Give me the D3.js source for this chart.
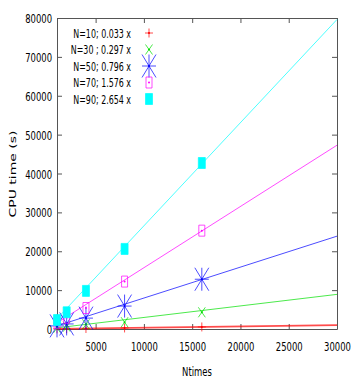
<!DOCTYPE html>
<html>
<head>
<meta charset="utf-8">
<script src="https://cdn.jsdelivr.net/npm/d3@7"></script>
<style>
  body { margin: 0; background: #fff; }
  text { font-family: "DejaVu Sans", sans-serif; fill: #000; }
</style>
</head>
<body>
<script>
// chart values
var ntimes = [1000, 2000, 4000, 8000, 16000];
var seriesNames = ["N=10; 0.033 x", "N=30 ; 0.297 x", "N=50; 0.796 x", "N=70; 1.576 x", "N=90; 2.654 x"];
var slopes = [0.033, 0.297, 0.796, 1.576, 2.654];
var cpu10 = [35, 70, 135, 270, 530];
var cpu30 = [300, 600, 1200, 1750, 4300];
var cpu50 = [800, 1300, 2800, 5900, 12800];
var cpu70 = [1600, 2900, 5400, 12200, 25300];
var cpu90 = [2300, 4300, 9800, 20600, 42700];
var xTicks = [5000, 10000, 15000, 20000, 25000, 30000];
var yTicks = [0, 10000, 20000, 30000, 40000, 50000, 60000, 70000, 80000];

var colors = ["#ff0000", "#00e000", "#0000ff", "#ff00ff", "#00ffff"];
var shapes = ["plus", "cross", "star", "box", "fbox"];
var lineWidths = [1.6, 1, 1, 1, 1];
var allSeries = [cpu10, cpu30, cpu50, cpu70, cpu90];

var W = 354, H = 382;
var squash = 0.65; // the original picture is squeezed sideways

var svg = d3.select("body").append("svg")
  .attr("width", W)
  .attr("height", H);

var x = d3.scaleLinear().domain([1000, 30000]).range([57, 337]);
var y = d3.scaleLinear().domain([0, 80000]).range([329, 18]);

// frame + ticks (inward, gnuplot style)
var frameColor = "#555";
var axBottom = svg.append("g").attr("transform", "translate(0,329)")
  .call(d3.axisBottom(x).tickValues(xTicks).tickSizeInner(-5).tickSizeOuter(0));
var axLeft = svg.append("g").attr("transform", "translate(57,0)")
  .call(d3.axisLeft(y).tickValues(yTicks).tickSizeInner(-5).tickSizeOuter(0));
var axTop = svg.append("g").attr("transform", "translate(0,18)")
  .call(d3.axisTop(x).tickValues(xTicks).tickSizeInner(-5).tickSizeOuter(0).tickFormat(""));
var axRight = svg.append("g").attr("transform", "translate(337,0)")
  .call(d3.axisRight(y).tickValues(yTicks).tickSizeInner(-5).tickSizeOuter(0).tickFormat(""));

[axBottom, axLeft, axTop, axRight].forEach(function(g){
  g.selectAll("path, line").attr("stroke", frameColor);
  g.selectAll("text").remove();
});

// tick labels
axBottom.selectAll(".tick").append("text")
  .attr("text-anchor", "middle")
  .attr("transform", "translate(0,22) scale(" + squash + ",1)")
  .style("font-size", "13px")
  .text(function(d){ return d; });
axLeft.selectAll(".tick").append("text")
  .attr("text-anchor", "end")
  .attr("transform", "translate(-5,4.5) scale(" + squash + ",1)")
  .style("font-size", "13px")
  .text(function(d){ return d; });

// axis titles
svg.append("text")
  .attr("text-anchor", "middle")
  .attr("transform", "translate(197,376) scale(" + squash + ",1)")
  .style("font-size", "13px")
  .text("Ntimes");
svg.append("text")
  .attr("text-anchor", "middle")
  .attr("transform", "translate(16,174) scale(" + squash + ",1) rotate(-90)")
  .style("font-size", "14px")
  .text("CPU time (s)");

// marker path, hx / hy are the half width and height
function marker(shape, cx, cy, hx, hy){
  var p = d3.path();
  if (shape == "plus" || shape == "star"){
    p.moveTo(cx - hx, cy); p.lineTo(cx + hx, cy);
    p.moveTo(cx, cy - hy); p.lineTo(cx, cy + hy);
  }
  if (shape == "cross" || shape == "star"){
    p.moveTo(cx - hx, cy - hy); p.lineTo(cx + hx, cy + hy);
    p.moveTo(cx - hx, cy + hy); p.lineTo(cx + hx, cy - hy);
  }
  if (shape == "box" || shape == "fbox"){
    p.rect(cx - hx, cy - hy, 2 * hx, 2 * hy);
  }
  return p.toString();
}
var halfX = [4, 3.5, 7, 3, 3.5];
var halfY = [4.5, 5, 11.5, 5.5, 5.5];

var line = d3.line()
  .x(function(d){ return x(d[0]); })
  .y(function(d){ return y(d[1]); });

var plot = svg.append("g");

allSeries.forEach(function(vals, i){
  var dom = x.domain();
  plot.append("path")
    .attr("d", line(dom.map(function(t){ return [t, slopes[i] * t]; })))
    .attr("fill", "none")
    .attr("stroke", colors[i])
    .attr("stroke-width", lineWidths[i])
    .attr("stroke-opacity", 0.7);
});

allSeries.forEach(function(vals, i){
  var g = plot.append("g");
  g.selectAll("path")
    .data(vals)
    .enter()
    .append("path")
    .attr("d", function(d, j){ return marker(shapes[i], x(ntimes[j]), y(d), halfX[i], halfY[i]); })
    .attr("fill", shapes[i] == "fbox" ? colors[i] : "none")
    .attr("stroke", colors[i])
    .attr("stroke-width", 1)
    .attr("stroke-opacity", 0.7);
  g.selectAll("circle")
    .data(vals)
    .enter()
    .append("circle")
    .attr("cx", function(d, j){ return x(ntimes[j]); })
    .attr("cy", function(d){ return y(d); })
    .attr("r", 1)
    .attr("fill", colors[i]);
});

// legend
var legend = svg.append("g");
seriesNames.forEach(function(name, i){
  var ly = 33 + i * 16.5;
  legend.append("text")
    .attr("text-anchor", "end")
    .attr("transform", "translate(131," + (ly + 4.5) + ") scale(0.61,1)")
    .style("font-size", "13px")
    .text(name);
  legend.append("path")
    .attr("d", marker(shapes[i], 149, ly, halfX[i], halfY[i]))
    .attr("fill", shapes[i] == "fbox" ? colors[i] : "none")
    .attr("stroke", colors[i])
    .attr("stroke-opacity", 0.7);
  legend.append("circle")
    .attr("cx", 149).attr("cy", ly).attr("r", 1)
    .attr("fill", colors[i]);
});
</script>
</body>
</html>
